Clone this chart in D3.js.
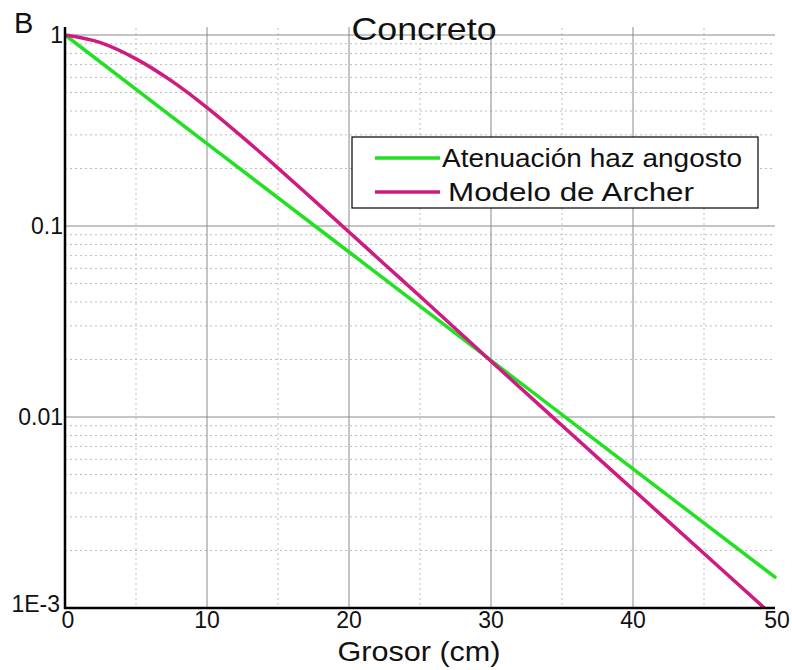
<!DOCTYPE html>
<html>
<head>
<meta charset="utf-8">
<script src="https://cdn.jsdelivr.net/npm/d3@7"></script>
<style>
  html, body { margin: 0; padding: 0; background: #fff; }
  svg { display: block; font-family: "Liberation Sans", Arial, sans-serif; }
</style>
</head>
<body>
<svg id="chart" width="792" height="670"></svg>
<script>
// Thickness (cm) sample points
const thicknessGreen = [0, 10, 20, 30, 40, 50];
// Narrow-beam attenuation (transmission factor)
const narrowBeam = [1, 0.270, 0.0731, 0.0198, 0.00535, 0.00145];

const thicknessArcher = [0, 2.5, 5, 7.5, 10, 12.5, 15, 17.5, 20, 22.5, 25, 27.5, 30, 35, 40, 45, 50];
// Archer model transmission
const archer = [1, 0.912, 0.750, 0.575, 0.417, 0.292, 0.201, 0.137, 0.0931, 0.0631, 0.0429, 0.0290, 0.0196, 0.00902, 0.00417, 0.00193, 0.000891];

const xTicks = [0, 10, 20, 30, 40, 50];
const yTicks = [1, 0.1, 0.01, 0.001];
const yTickLabels = ["1", "0.1", "0.01", "1E-3"];

const seriesNames = ["Atenuación haz angosto", "Modelo de Archer"];
const seriesColors = ["#22e022", "#cf1a80"];

const svg = d3.select("#chart");
const plotLeft = 65, plotRight = 775, plotTop = 35, plotBottom = 608;

const x = d3.scaleLinear().domain([0, 50]).range([plotLeft, plotRight]);
const y = d3.scaleLog().domain([0.001, 1]).range([plotBottom, plotTop]);

const grid = svg.append("g");

// minor vertical grid (every 5 cm)
grid.selectAll("line.vminor")
  .data(d3.range(5, 50, 10))
  .join("line")
  .attr("x1", d => x(d)).attr("x2", d => x(d))
  .attr("y1", plotTop - 7).attr("y2", plotBottom)
  .attr("stroke", "#bdbdbd").attr("stroke-width", 1)
  .attr("stroke-dasharray", "2,3");

// minor horizontal grid (2..9 of each decade)
const minorY = [];
[0.001, 0.01, 0.1].forEach(dec => { for (let k = 2; k <= 9; k++) minorY.push(dec * k); });
grid.selectAll("line.hminor")
  .data(minorY)
  .join("line")
  .attr("x1", plotLeft).attr("x2", plotRight)
  .attr("y1", d => y(d)).attr("y2", d => y(d))
  .attr("stroke", "#bdbdbd").attr("stroke-width", 1)
  .attr("stroke-dasharray", "2,3");

// major vertical grid
grid.selectAll("line.vmajor")
  .data(xTicks.filter(d => d > 0 && d < 50))
  .join("line")
  .attr("x1", d => x(d)).attr("x2", d => x(d))
  .attr("y1", plotTop - 8).attr("y2", plotBottom)
  .attr("stroke", "#8a8a8a").attr("stroke-width", 1);

// major horizontal grid
grid.selectAll("line.hmajor")
  .data(yTicks.filter(d => d > 0.001))
  .join("line")
  .attr("x1", plotLeft).attr("x2", plotRight)
  .attr("y1", d => y(d)).attr("y2", d => y(d))
  .attr("stroke", "#8a8a8a").attr("stroke-width", 1);

// clip region for the curves
svg.append("clipPath").attr("id", "plotClip")
  .append("rect").attr("x", plotLeft).attr("y", plotTop - 4)
  .attr("width", plotRight - plotLeft + 4).attr("height", plotBottom - plotTop + 4);

const line = d3.line().x(d => x(d[0])).y(d => y(d[1]));

const curves = svg.append("g").attr("clip-path", "url(#plotClip)");
curves.append("path")
  .datum(d3.zip(thicknessGreen, narrowBeam))
  .attr("d", line.curve(d3.curveLinear))
  .attr("fill", "none").attr("stroke", seriesColors[0])
  .attr("stroke-width", 3.5).attr("stroke-linecap", "round");

curves.append("path")
  .datum(d3.zip(thicknessArcher, archer))
  .attr("d", line.curve(d3.curveMonotoneX))
  .attr("fill", "none").attr("stroke", seriesColors[1])
  .attr("stroke-width", 3.5).attr("stroke-linecap", "round");

// axes lines
svg.append("line").attr("x1", plotLeft).attr("x2", plotLeft)
  .attr("y1", plotTop - 8).attr("y2", plotBottom + 1)
  .attr("stroke", "#000").attr("stroke-width", 2.5);
svg.append("line").attr("x1", plotLeft - 1).attr("x2", plotRight)
  .attr("y1", plotBottom).attr("y2", plotBottom)
  .attr("stroke", "#000").attr("stroke-width", 2.5);

// x tick labels
svg.append("g").selectAll("text")
  .data(xTicks)
  .join("text")
  .attr("x", d => x(d) + (d === 0 ? 3 : d === 50 ? 2 : 0))
  .attr("y", 628)
  .attr("text-anchor", "middle")
  .attr("font-size", 23)
  .attr("fill", "#111")
  .text(d => d);

// y tick labels
svg.append("g").selectAll("text")
  .data(yTicks)
  .join("text")
  .attr("x", d => d === 0.001 ? 60 : 63)
  .attr("y", d => y(d) + (d === 0.001 ? 4 : 8))
  .attr("text-anchor", "end")
  .attr("font-size", 23)
  .attr("fill", "#111")
  .text((d, i) => yTickLabels[i]);

// title and panel letter
svg.append("text").attr("x", 424).attr("y", 40)
  .attr("text-anchor", "middle").attr("font-size", 32)
  .attr("textLength", 145).attr("lengthAdjust", "spacingAndGlyphs")
  .attr("fill", "#111").text("Concreto");
svg.append("text").attr("x", 14).attr("y", 33)
  .attr("font-size", 29).attr("fill", "#111").text("B");

// x axis title
svg.append("text").attr("x", 419).attr("y", 661)
  .attr("text-anchor", "middle").attr("font-size", 28)
  .attr("textLength", 163).attr("lengthAdjust", "spacingAndGlyphs")
  .attr("fill", "#111").text("Grosor (cm)");

// legend
const lg = svg.append("g");
lg.append("rect").attr("x", 352).attr("y", 137)
  .attr("width", 406).attr("height", 71)
  .attr("fill", "#fff").attr("stroke", "#000").attr("stroke-width", 1.2);
const legendRows = [
  { y: 158, tx: 442, ty: 167, w: 300 },
  { y: 192, tx: 448, ty: 201, w: 246 }
];
legendRows.forEach((r, i) => {
  lg.append("line").attr("x1", 375).attr("x2", 440)
    .attr("y1", r.y).attr("y2", r.y)
    .attr("stroke", seriesColors[i]).attr("stroke-width", 3.5);
  lg.append("text").attr("x", r.tx).attr("y", r.ty)
    .attr("font-size", 26).attr("fill", "#111")
    .attr("textLength", r.w).attr("lengthAdjust", "spacingAndGlyphs")
    .text(seriesNames[i]);
});
</script>
</body>
</html>
